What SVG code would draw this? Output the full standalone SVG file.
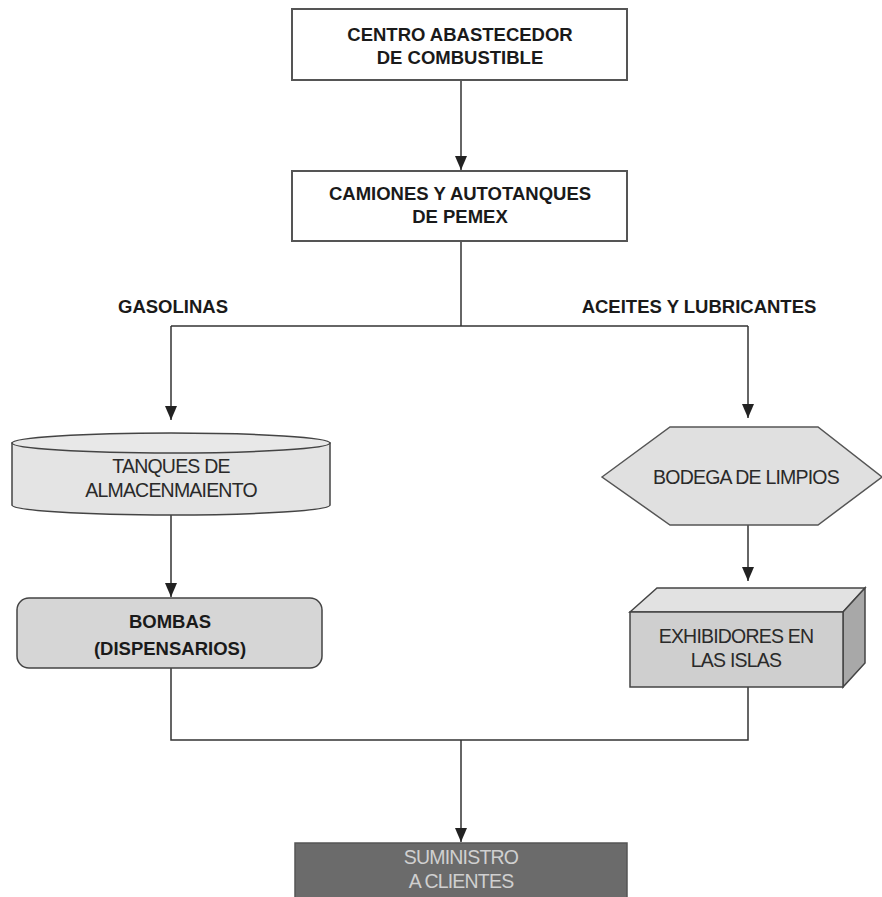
<svg xmlns="http://www.w3.org/2000/svg" width="882" height="897" viewBox="0 0 882 897">
<style>
.b{font-family:"Liberation Sans",Arial,sans-serif;font-weight:bold;font-size:18.5px;fill:#1a1a1a;text-anchor:middle}
.n{font-family:"Liberation Sans",Arial,sans-serif;font-size:19.5px;fill:#2a2a2a;text-anchor:middle;letter-spacing:-0.8px}
.ln{stroke:#333;stroke-width:1.5;fill:none}
.box{stroke:#555;stroke-width:2}
</style>
<defs>
<marker id="ah" viewBox="0 0 14 12" refX="14" refY="6" markerWidth="14" markerHeight="12" markerUnits="userSpaceOnUse" orient="auto">
<path d="M0,0 L14,6 L0,12 z" fill="#222"/>
</marker>
</defs>
<rect width="882" height="897" fill="#fff"/>
<g id="connectors">
<line class="ln" x1="461" y1="80" x2="461" y2="170" marker-end="url(#ah)"/>
<polyline class="ln" points="461,241 461,326"/>
<polyline class="ln" points="171,326 748,326"/>
<line class="ln" x1="171" y1="326" x2="171" y2="420" marker-end="url(#ah)"/>
<line class="ln" x1="748" y1="326" x2="748" y2="418" marker-end="url(#ah)"/>
<line class="ln" x1="171" y1="515" x2="171" y2="597" marker-end="url(#ah)"/>
<line class="ln" x1="748" y1="525" x2="748" y2="581" marker-end="url(#ah)"/>
<polyline class="ln" points="171,668 171,740 748,740 748,687"/>
<line class="ln" x1="461" y1="740" x2="461" y2="842" marker-end="url(#ah)"/>
</g>
<g id="centro">
<rect class="box" x="292" y="9" width="335" height="71" fill="#fff"/>
<text class="b" x="460" y="41">CENTRO ABASTECEDOR</text>
<text class="b" x="460" y="64">DE COMBUSTIBLE</text>
</g>
<g id="camiones">
<rect class="box" x="292" y="171" width="335" height="70" fill="#fff"/>
<text class="b" x="460" y="200">CAMIONES Y AUTOTANQUES</text>
<text class="b" x="460" y="223">DE PEMEX</text>
</g>
<g id="labels">
<text class="b" x="173" y="313">GASOLINAS</text>
<text class="b" x="699" y="313">ACEITES Y LUBRICANTES</text>
</g>
<g id="tanques">
<path d="M12,443 L12,505 A159,10 0 0 0 330,505 L330,443 Z" fill="#e4e4e4" stroke="#444" stroke-width="1.5"/>
<ellipse cx="171" cy="443" rx="159" ry="10" fill="#e8e8e8" stroke="#444" stroke-width="1.5"/>
<text class="n" x="171" y="473">TANQUES DE</text>
<text class="n" x="171" y="497">ALMACENMAIENTO</text>
</g>
<g id="bombas">
<rect x="17" y="598" width="305" height="70" rx="12" fill="#d6d6d6" stroke="#444" stroke-width="1.5"/>
<text class="b" x="170" y="628">BOMBAS</text>
<text class="b" x="170" y="655">(DISPENSARIOS)</text>
</g>
<g id="bodega">
<polygon points="602,477 670,427 818,427 882,477 818,525 670,525" fill="#e0e0e0" stroke="#555" stroke-width="1.5"/>
<text class="n" x="746" y="484">BODEGA DE LIMPIOS</text>
</g>
<g id="exhibidores">
<polygon points="630,612 657,588 865,588 843,612" fill="#e2e2e2" stroke="#444" stroke-width="1.5"/>
<polygon points="843,612 865,588 865,663 843,687" fill="#a8a8a8" stroke="#444" stroke-width="1.5"/>
<rect x="630" y="612" width="213" height="75" fill="#cfcfcf" stroke="#444" stroke-width="1.5"/>
<text class="n" x="736" y="643">EXHIBIDORES EN</text>
<text class="n" x="736" y="667">LAS ISLAS</text>
</g>
<g id="suministro">
<rect x="295" y="843" width="332" height="60" fill="#6b6b6b" stroke="#555" stroke-width="1.5"/>
<text class="n" x="461" y="864" style="fill:#d0d0d0">SUMINISTRO</text>
<text class="n" x="461" y="888" style="fill:#d0d0d0">A CLIENTES</text>
</g>
</svg>
